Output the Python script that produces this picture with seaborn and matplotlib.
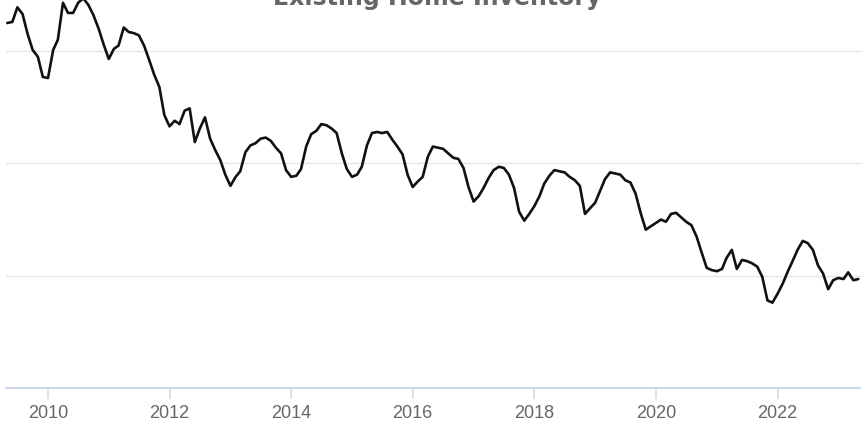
import matplotlib
matplotlib.use("Agg")
import matplotlib.pyplot as plt
import matplotlib.dates as mdates
import seaborn as sns
import pandas as pd

# Existing home inventory (millions), monthly May 2009 - May 2023
start_month = "2009-05-01"
inventory = [
    3.25, 3.26, 3.39, 3.33, 3.15, 3.01, 2.95, 2.77,                    # 2009 May-Dec
    2.76, 3.01, 3.10, 3.43, 3.34, 3.34, 3.43, 3.47, 3.41, 3.32, 3.20, 3.06,  # 2010
    2.93, 3.02, 3.05, 3.21, 3.17, 3.16, 3.14, 3.05, 2.92, 2.79, 2.68, 2.43,  # 2011
    2.33, 2.38, 2.35, 2.47, 2.49, 2.19, 2.31, 2.41, 2.22, 2.12, 2.03, 1.90,  # 2012
    1.80, 1.88, 1.93, 2.10, 2.16, 2.18, 2.22, 2.23, 2.20, 2.14, 2.09, 1.94,  # 2013
    1.88, 1.89, 1.95, 2.15, 2.26, 2.29, 2.35, 2.34, 2.31, 2.27, 2.09, 1.95,  # 2014
    1.88, 1.90, 1.97, 2.16, 2.27, 2.28, 2.27, 2.28, 2.21, 2.15, 2.08, 1.90,  # 2015
    1.79, 1.84, 1.88, 2.06, 2.15, 2.14, 2.13, 2.09, 2.05, 2.04, 1.96, 1.79,  # 2016
    1.66, 1.71, 1.78, 1.87, 1.94, 1.97, 1.96, 1.90, 1.78, 1.57, 1.49, 1.55,  # 2017
    1.62, 1.71, 1.82, 1.89, 1.94, 1.93, 1.92, 1.88, 1.85, 1.80, 1.55, 1.60,  # 2018
    1.65, 1.76, 1.86, 1.92, 1.91, 1.90, 1.85, 1.83, 1.73, 1.56, 1.41, 1.44,  # 2019
    1.47, 1.50, 1.48, 1.55, 1.56, 1.52, 1.48, 1.45, 1.35, 1.21, 1.07, 1.05,  # 2020
    1.04, 1.06, 1.16, 1.23, 1.06, 1.14, 1.13, 1.11, 1.08, 0.99, 0.78, 0.76,  # 2021
    0.84, 0.93, 1.03, 1.13, 1.23, 1.31, 1.29, 1.23, 1.09, 1.02, 0.88, 0.96,  # 2022
    0.98, 0.97, 1.03, 0.96, 0.97,                                          # 2023 Jan-May
]
title_text = "Existing Home Inventory"
tick_years = [2010, 2012, 2014, 2016, 2018, 2020, 2022]

dates = pd.date_range(start_month, periods=len(inventory), freq="MS")
df = pd.DataFrame({"date": dates, "inventory": inventory})

sns.set_style("white")
plt.rcParams["font.family"] = ["Liberation Sans", "DejaVu Sans"]

W, H = 861, 423
fig = plt.figure(figsize=(W / 100, H / 100), dpi=100)
px_per_unit = 112.3
ymax = 3.6
ax_left_px, ax_bottom_px = 6, 388
ax = fig.add_axes([ax_left_px / W, (H - ax_bottom_px) / H,
                   (W - ax_left_px) / W, ymax * px_per_unit / H])

sns.lineplot(data=df, x="date", y="inventory", ax=ax, color="#111111",
             linewidth=1.9)

# x range: Jan 2010 at px 48, 60.8 px per year
px_per_year = 60.8
jan2010 = pd.Timestamp("2010-01-01")
left = jan2010 + pd.Timedelta(days=(ax_left_px - 48) / px_per_year * 365.25)
right = jan2010 + pd.Timedelta(days=(W - 48) / px_per_year * 365.25)
ax.set_xlim(left, right)
ax.set_ylim(0, ymax)

ax.set_xticks([pd.Timestamp(f"{y}-01-01") for y in tick_years])
ax.xaxis.set_major_formatter(mdates.DateFormatter("%Y"))
ax.set_yticks([1, 2, 3])
ax.set_yticklabels([])
ax.grid(axis="y", color="#e6e6e6", linewidth=1.0)
ax.grid(axis="x", visible=False)
ax.tick_params(axis="y", length=0)
ax.tick_params(axis="x", bottom=True, length=8, width=1.1, color="#ccd6eb",
               labelcolor="#666666", labelsize=13, pad=4)
for s in ["top", "right", "left"]:
    ax.spines[s].set_visible(False)
ax.spines["bottom"].set_color("#ccd6eb")
ax.spines["bottom"].set_linewidth(1.4)
ax.set_xlabel("")
ax.set_ylabel("")

fig.text(437 / W, 1 - 5 / H, title_text, ha="center", va="baseline",
         fontsize=17, fontweight="bold", color="#666666",
         family=["DejaVu Sans"])

fig.savefig("out.png", dpi=100)
